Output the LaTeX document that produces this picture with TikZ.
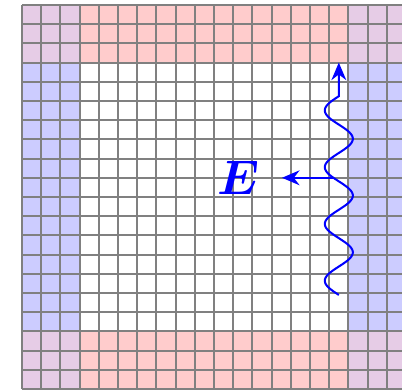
\RequirePackage{fix-cm}
\documentclass[tikz,border=0pt]{standalone}
\usepackage{bm}
\usetikzlibrary{arrows.meta, positioning}
\definecolor{cpink}{HTML}{FFCCCC}
\definecolor{cblue}{HTML}{CCCCFF}
\definecolor{cmix}{HTML}{E6CCE6}
\definecolor{cgrid}{HTML}{808080}
\tikzset{
  every picture/.style={x=0.5cm, y=0.5cm},
  band/.style={fill=#1, draw=none},
  gridline/.style={draw=cgrid, line width=1.4pt},
  wave/.style={draw=blue, line width=1.5pt, -{Stealth[length=13pt, width=11pt]}},
  field/.style={font=\fontsize{36}{40}\selectfont, text=blue, inner sep=0pt},
}

\begin{document}
\begin{tikzpicture}
  \useasboundingbox (-1.146,-0.104) rectangle (19.79,20.26);
  \fill[band=cpink] (3,0) rectangle (17,3);
  \fill[band=cpink] (3,17) rectangle (17,20);
  \fill[band=cblue] (0,3) rectangle (3,17);
  \fill[band=cblue] (17,3) rectangle (20,17);
  \fill[band=cmix] (0,0) rectangle (3,3);
  \fill[band=cmix] (17,0) rectangle (20,3);
  \fill[band=cmix] (0,17) rectangle (3,20);
  \fill[band=cmix] (17,17) rectangle (20,20);
  \draw[gridline, step=0.5cm] (0,0) grid (20,20);
  \coordinate (top) at (16.5,17);
  \coordinate (w) at (16.22,11);
  \coordinate (tip) at (13.54,11);
  \draw[wave] plot[domain=4.9:15.25, samples=150] ({16.5-0.73*sin(360*(\x-4.9)/2.957)}, \x) -- (top);
  \node[field, left=0.57cm of tip] (E) {$\bm{E}$};
  \draw[wave] (w) -- (tip);
\end{tikzpicture}
\end{document}
